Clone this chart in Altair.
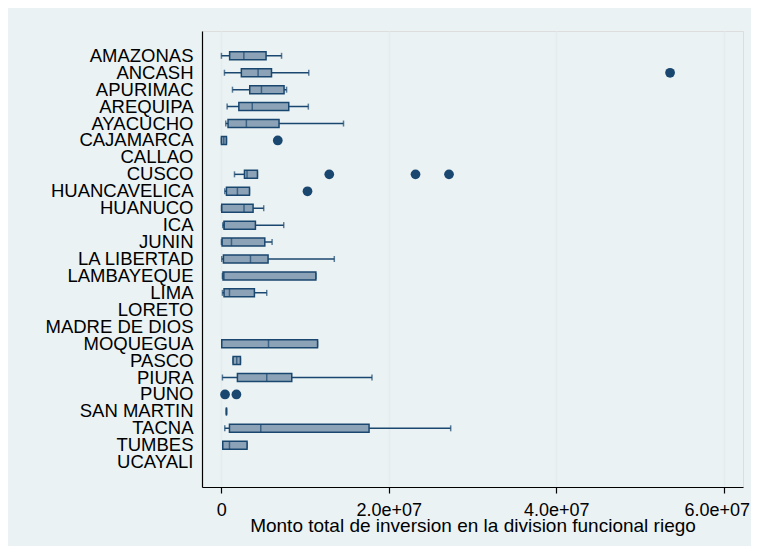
import altair as alt
import pandas as pd

states = ["AMAZONAS", "ANCASH", "APURIMAC", "AREQUIPA", "AYACUCHO", "CAJAMARCA",
          "CALLAO", "CUSCO", "HUANCAVELICA", "HUANUCO", "ICA", "JUNIN",
          "LA LIBERTAD", "LAMBAYEQUE", "LIMA", "LORETO", "MADRE DE DIOS",
          "MOQUEGUA", "PASCO", "PIURA", "PUNO", "SAN MARTIN", "TACNA",
          "TUMBES\u00a0", "UCAYALI"]

# values in millions (None = no box)
lower_whisker = [0.02, 0.38, 1.34, 0.70, 0.54, 0.02, None, 1.58, 0.42, 0.02, 0.18, 0.02,
                 0.06, 0.14, 0.14, None, None, 0.06, 1.41, 0.14, None, 0.62, 0.42, 0.18, None]
q1 = [1.00, 2.40, 3.40, 2.10, 0.81, 0.02, None, 2.77, 0.62, 0.06, 0.33, 0.10,
      0.26, 0.21, 0.33, None, None, 0.06, 1.41, 1.93, None, 0.62, 0.98, 0.18, None]
median = [2.70, 4.40, 4.80, 3.70, 3.00, 0.30, None, 3.08, 1.93, 2.72, 0.36, 1.22,
          3.49, 0.33, 0.98, None, None, 5.64, 1.85, 5.43, None, 0.62, 4.72, 0.98, None]
q3 = [5.35, 6.00, 7.50, 8.06, 6.90, 0.62, None, 4.32, 3.37, 3.80, 4.08, 5.20,
      5.59, 11.30, 3.96, None, None, 11.50, 2.29, 8.42, None, 0.62, 17.65, 3.08, None]
upper_whisker = [7.20, 10.45, 7.80, 10.40, 14.60, 0.62, None, 4.32, 3.37, 5.07, 7.46, 6.07,
                 13.50, 11.30, 5.43, None, None, 11.50, 2.29, 18.00, None, 0.62, 27.40, 3.08, None]

outlier_state = ["ANCASH", "CAJAMARCA", "CUSCO", "CUSCO", "CUSCO", "HUANCAVELICA", "PUNO", "PUNO"]
outlier_value = [53.6, 6.75, 12.9, 23.2, 27.2, 10.3, 0.45, 1.81]

rows = []
for i, s in enumerate(states):
    if q1[i] is None:
        continue
    rows.append({"state": s, "lw": lower_whisker[i] * 1e6, "q1": q1[i] * 1e6,
                 "med": median[i] * 1e6, "q3": q3[i] * 1e6, "uw": upper_whisker[i] * 1e6})
box_df = pd.DataFrame(rows)
out_df = pd.DataFrame({"state": outlier_state, "v": [v * 1e6 for v in outlier_value]})

NAVY = "#1a476f"
FILL = "#8ca3b7"
GRID = "#e4ecf0"

xscale = alt.Scale(domain=[-2.3e6, 6.231e7], nice=False, zero=False, padding=0)
yscale = alt.Scale(type="band", domain=states, paddingInner=0, paddingOuter=0.966)

xaxis = alt.Axis(values=[0, 2e7, 4e7, 6e7],
                 labelExpr="datum.value == 0 ? '0' : format(datum.value / 1e7, '.1f') + 'e+07'",
                 title="Monto total de inversion en la division funcional riego",
                 grid=True, gridColor=GRID, gridWidth=1.5,
                 domainColor="black", domainWidth=1.2,
                 tickColor="black", tickSize=6, tickWidth=1.2,
                 labelFontSize=18, labelColor="black", labelPadding=8, labelFlush=False,
                 labelOverlap=False,
                 labelOffset={"expr": "datum.value > 5e7 ? -7 : 0"},
                 titleFontSize=19, titleFontWeight="normal", titleColor="black",
                 titleBaseline="alphabetic", titleY=44)
yaxis = alt.Axis(title=None, ticks=False, grid=False, domainColor="black", domainWidth=1.2,
                 labelFontSize=18.5, labelColor="black", labelPadding=9, labelLimit=300,
                 labelBaseline="middle", labelOverlap=False)

base = alt.Chart(box_df)

whisk = base.mark_rule(color=NAVY, strokeWidth=1.5).encode(
    x=alt.X("lw:Q", scale=xscale, axis=xaxis),
    x2="uw:Q",
    y=alt.Y("state:N", scale=yscale, axis=yaxis, sort=states),
)
cap_lo = base.mark_tick(color=NAVY, thickness=1.5, size=6, orient="vertical").encode(
    x=alt.X("lw:Q", scale=xscale), y=alt.Y("state:N", scale=yscale, sort=states))
cap_hi = base.mark_tick(color=NAVY, thickness=1.5, size=6, orient="vertical").encode(
    x=alt.X("uw:Q", scale=xscale), y=alt.Y("state:N", scale=yscale, sort=states))
box = base.mark_bar(fill=FILL, stroke=NAVY, strokeWidth=1.5, size=8).encode(
    x=alt.X("q1:Q", scale=xscale), x2="q3:Q", y=alt.Y("state:N", scale=yscale, sort=states))
med = base.mark_tick(color=NAVY, thickness=1.5, size=8, orient="vertical").encode(
    x=alt.X("med:Q", scale=xscale), y=alt.Y("state:N", scale=yscale, sort=states))
outl = alt.Chart(out_df).mark_circle(color=NAVY, opacity=1, size=95).encode(
    x=alt.X("v:Q", scale=xscale), y=alt.Y("state:N", scale=yscale, sort=states))

chart = alt.layer(whisk, cap_lo, cap_hi, box, med, outl).properties(
    width=541, height=456,
    autosize=alt.AutoSizeParams(type="none"),
    padding={"left": 194, "top": 23, "right": 8, "bottom": 59},
    background="#eaf2f3",
).configure_view(fill="white", strokeWidth=0).configure(font="Liberation Sans")

chart.save("out.html", embed_options={"renderer": "svg", "actions": False})
